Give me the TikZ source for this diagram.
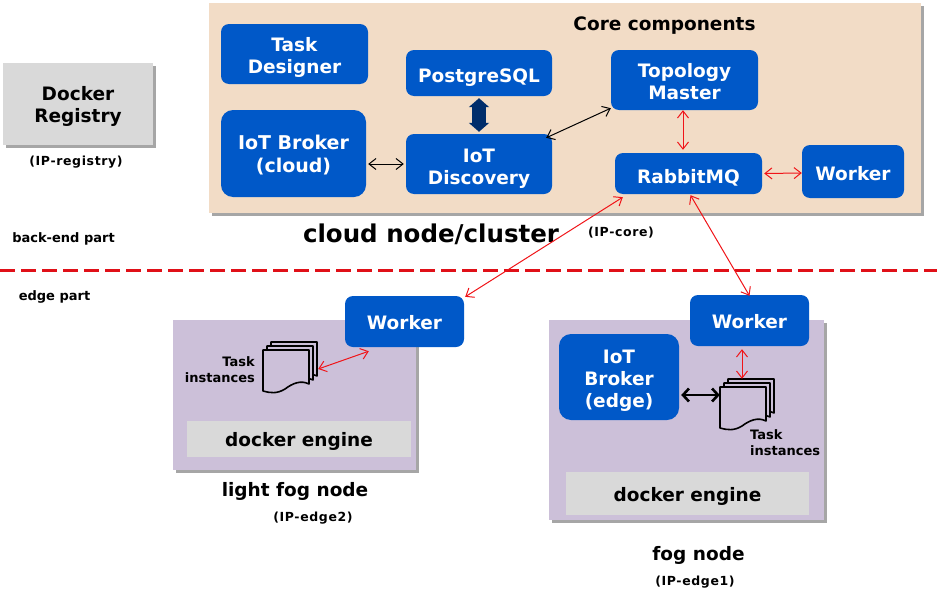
\documentclass[tikz,border=0pt]{standalone}
\usepackage{fontspec}
\setmainfont{DejaVu Sans}
\usetikzlibrary{calc,shadows,arrows.meta}
\definecolor{boxblue}{HTML}{0058C8}
\definecolor{corebg}{HTML}{F2DCC6}
\definecolor{fogbg}{HTML}{CCC0D9}
\definecolor{grayb}{HTML}{D9D9D9}
\definecolor{navy}{HTML}{002D6B}
\definecolor{redl}{HTML}{F01418}
\definecolor{sepred}{HTML}{E01018}
\newcommand{\fsz}[2]{\fontsize{#1}{#2}\selectfont\bfseries}
\newcommand{\dn}[2][-3pt]{\raisebox{#1}[\height][\depth]{\begin{tabular}{@{}c@{}}#2\end{tabular}}}
\tikzset{
  bluebox/.style={fill=boxblue,text=white,rounded corners=8pt,align=center,inner sep=0pt,font=\fsz{18.5}{22}},
  panel/.style={inner sep=0pt,drop shadow={shadow xshift=2.5pt,shadow yshift=-2.5pt,fill=black,opacity=.35}},
  graybox/.style={fill=grayb,inner sep=0pt,align=center},
  sz/.style 2 args={minimum width=#1pt,minimum height=#2pt},
  redarrow/.style={draw=redl,line width=1pt,{Straight Barb[length=7pt,width=11pt]}-{Straight Barb[length=7pt,width=11pt]}},
  blackarrow/.style={draw=black,line width=1pt,{Straight Barb[length=7pt,width=11pt]}-{Straight Barb[length=7pt,width=11pt]}},
  small/.style={font=\fsz{12.5}{15}\addfontfeatures{LetterSpace=5},align=center,inner sep=0pt},
  plainl/.style={font=\fsz{13}{15},align=center,inner sep=0pt},
  taskl/.style={font=\fsz{13}{16},align=left,inner sep=0pt},
  ttl/.style={font=\fsz{18.5}{22},inner sep=0pt},
  page/.style={fill=fogbg,draw=black,line width=1.6pt,line join=round},
  anchorbox/.style={inner sep=0pt},
}
% three stacked pages; #1 = top-left of the front page, front page 46x43
\newcommand{\docstack}[1]{%
  \begin{scope}[shift={#1}]
    \foreach \d in {8,4,0}{
      \draw[page] (\d,-\d) -- (\d+46,-\d) -- (\d+46,34-\d) .. controls (\d+38,30-\d) and (\d+30,33-\d) .. (\d+22,39-\d) .. controls (\d+14,44-\d) and (\d+7,43-\d) .. (\d,41-\d) -- cycle;
    }
  \end{scope}}
\begin{document}
\begin{tikzpicture}[x=1pt,y=-1pt]
\useasboundingbox (0,0) rectangle (937,597);
% panels
\node[panel,fill=corebg,sz={712}{210}] (core) at (565,108) {};
\node[panel,fill=grayb,sz={150}{82},align=center,font=\fsz{18.5}{22}] (registry) at (78,104) {\dn{Docker\\Registry}};
\node[panel,fill=fogbg,sz={243}{150}] (light) at (294.5,395) {};
\node[panel,fill=fogbg,sz={275}{200}] (fog) at (686.5,420) {};
% core boxes
\node[bluebox,sz={147}{60}] (designer) at (294.5,54) {\dn[-4pt]{Task\\Designer}};
\node[bluebox,sz={146}{46}] (pg) at (479,73) {\dn[-5pt]{PostgreSQL}};
\node[bluebox,sz={146}{60}] (disc) at (479,164) {\dn[-5pt]{IoT\\Discovery}};
\node[bluebox,sz={147}{60}] (topo) at (684.5,80) {\dn[-4pt]{Topology\\Master}};
\node[bluebox,sz={147}{41}] (rabbit) at (688.5,173.5) {\dn[-6pt]{RabbitMQ}};
\node[bluebox,sz={102}{53}] (wcore) at (853,171.5) {\dn[-5pt]{Worker}};
\node[bluebox,sz={145}{87},rounded corners=12pt,font=\fsz{19}{23}] (bcloud) at (293.5,153.5) {\dn{IoT Broker\\(cloud)}};
% edge
\node[graybox,sz={224}{36},font=\fsz{18.5}{22}] (dock2) at (299,439) {\dn{docker engine}};
\node[graybox,sz={243}{43},font=\fsz{18.5}{22}] (dock1) at (687.5,493.5) {\dn[-4pt]{docker engine}};
\node[bluebox,sz={119}{51}] (wlight) at (404.5,321.5) {\dn[-4pt]{Worker}};
\node[bluebox,sz={119}{51}] (wfog) at (749.5,320.5) {\dn[-4pt]{Worker}};
\node[bluebox,sz={120}{86},rounded corners=12pt] (bedge) at (619,377) {\dn[-4pt]{IoT\\Broker\\(edge)}};
% task stacks
\node[anchorbox,sz={54}{52}] (st2) at (289,367) {};
\docstack{(263,350)}
\node[anchorbox,sz={55}{53}] (st1) at (747.5,403.5) {};
\docstack{(720,387)}
% texts
\node[ttl] (tcore) at (664.5,26) {Core components};
\node[font=\fsz{24.5}{28},inner sep=0pt] (tcloud) at (431,234) {cloud node/cluster};
\node[small] (tipreg) at (76,162) {(IP-registry)};
\node[small] (tipcore) at (621,233) {(IP-core)};
\node[plainl] (tback) at (63.5,239) {back-end part};
\node[plainl] (tedge) at (54.5,297) {edge part};
\node[taskl,align=right,anchor=east] (ti2) at (255,370) {Task\\instances};
\node[taskl,anchor=west] (ti1) at (750,443) {Task\\instances};
\node[ttl] (tlight) at (295,491) {light fog node};
\node[small] (tip2) at (313,518) {(IP-edge2)};
\node[ttl] (tfog) at (698.5,555) {fog node};
\node[small] (tip1) at (695,582) {(IP-edge1)};
% dashed separator
\coordinate (sepa) at (0,270);
\coordinate (sepb) at (937,270);
\draw[sepred,line width=3pt,dash pattern=on 15pt off 6pt] (sepa) -- (sepb);
% connectors
\draw[blackarrow] ([xshift=2pt]bcloud.east |- disc.west) -- ([xshift=-2pt]disc.west);
\draw[blackarrow] ([xshift=-6pt,yshift=-4pt]disc.north east) -- ([yshift=2pt]topo.south west);
\draw[redarrow] ([xshift=-1.5pt]topo.south) -- ([xshift=-5.5pt,yshift=3pt]rabbit.north);
\draw[redarrow] ([xshift=2pt]rabbit.east) -- ([yshift=-1.5pt]wcore.west);
\draw[redarrow] ([xshift=8pt,yshift=-3pt]rabbit.south west) -- ([xshift=1pt,yshift=-1pt]wlight.north east);
\draw[redarrow] ([xshift=2pt,yshift=-1pt]rabbit.south) -- ([yshift=-1pt]wfog.north);
\draw[redarrow] ([xshift=2pt,yshift=-2pt]st2.east) -- ([xshift=24pt,yshift=-4pt]wlight.south west);
\draw[redarrow] ([xshift=-7.5pt,yshift=-3pt]wfog.south) -- ([xshift=-5.5pt,yshift=-2pt]st1.north);
\draw[line width=2.6pt,{Straight Barb[length=6pt,width=13pt]}-{Straight Barb[length=6pt,width=13pt]}] ([xshift=2pt,yshift=-18pt]bedge.east) -- ([yshift=8.5pt]st1.west);
\draw[navy,line width=14pt,{Triangle[length=9pt,width=20pt]}-{Triangle[length=9pt,width=20pt]}] ([yshift=-2pt]pg.south) -- ([yshift=2pt]disc.north);
\end{tikzpicture}
\end{document}
